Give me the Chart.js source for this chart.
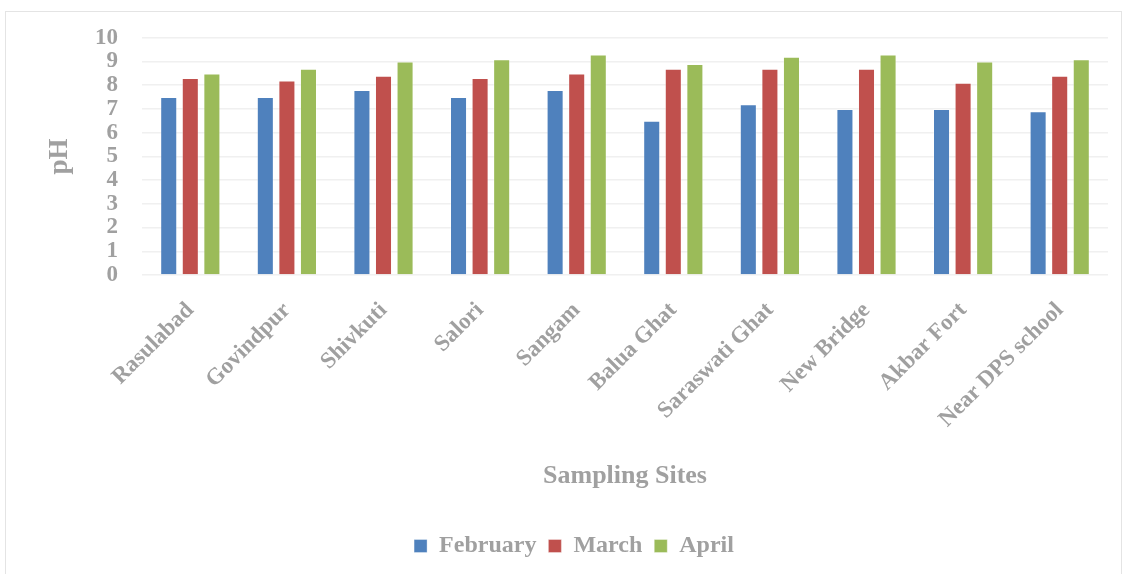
<!DOCTYPE html>
<html>
<head>
<meta charset="utf-8">
<script src="https://cdn.jsdelivr.net/npm/chart.js@4.4.1/dist/chart.umd.min.js"></script>
<style>
html,body{margin:0;padding:0;background:#fff;}
#wrap{width:1128px;height:574px;position:relative;}
</style>
</head>
<body>
<div id="wrap"><canvas id="c" width="1128" height="574"></canvas></div>
<script>
const categories = ["Rasulabad","Govindpur","Shivkuti","Salori","Sangam","Balua Ghat","Saraswati Ghat","New Bridge","Akbar Fort","Near DPS school"];
const february = [7.5,7.5,7.8,7.5,7.8,6.5,7.2,7.0,7.0,6.9];
const march = [8.3,8.2,8.4,8.3,8.5,8.7,8.7,8.7,8.1,8.4];
const april = [8.5,8.7,9.0,9.1,9.3,8.9,9.2,9.3,9.0,9.1];
const yTicks = [0,1,2,3,4,5,6,7,8,9,10];

const grey = '#a0a0a0';
const serif = '"Liberation Serif", "Times New Roman", serif';

const borderPlugin = {
  id: 'frame',
  beforeDraw(chart){
    const ctx = chart.ctx;
    ctx.save();
    ctx.fillStyle = '#fff';
    ctx.fillRect(0,0,chart.width,chart.height);
    ctx.strokeStyle = '#e4e4e4';
    ctx.lineWidth = 1;
    ctx.strokeRect(5.5, 11.5, 1116, 570);
    ctx.restore();
  }
};

new Chart(document.getElementById('c'), {
  type: 'bar',
  data: {
    labels: categories,
    datasets: [
      {label:'February', data: february, backgroundColor:'#4F81BD', borderColor:'rgba(255,255,255,0.35)', borderWidth:1},
      {label:'March', data: march, backgroundColor:'#C0504D', borderColor:'rgba(255,255,255,0.35)', borderWidth:1},
      {label:'April', data: april, backgroundColor:'#9BBB59', borderColor:'rgba(255,255,255,0.35)', borderWidth:1}
    ]
  },
  options: {
    responsive: false,
    animation: false,
    devicePixelRatio: 1,
    categoryPercentage: 0.67,
    barPercentage: 0.79,
    layout: {padding: {left: 40, right: 20, top: 37, bottom: 6}},
    plugins: {
      legend: {
        position: 'bottom',
        labels: {
          boxWidth: 13, boxHeight: 13, padding: 12,
          color: grey,
          font: {family: serif, size: 24, weight: 'bold'}
        }
      },
      tooltip: {enabled: false}
    },
    scales: {
      x: {
        grid: {display: false},
        border: {display: false},
        ticks: {
          color: grey, maxRotation: 45, minRotation: 45, padding: 14, autoSkip: false,
          font: {family: serif, size: 23, weight: 'bold'}
        },
        title: {
          display: true, text: 'Sampling Sites', color: grey,
          font: {family: serif, size: 26, weight: 'bold'},
          padding: {top: 0, bottom: 30}
        },
        afterFit(scale){ scale.height = 247; }
      },
      y: {
        min: 0, max: 10,
        afterBuildTicks(scale){ scale.ticks = yTicks.map(v => ({value: v})); },
        grid: {color: '#f0f0f0', lineWidth: 1.5, drawTicks: false},
        border: {display: false},
        ticks: {
          color: grey, padding: 24, autoSkip: false,
          font: {family: serif, size: 23, weight: 'bold'}
        },
        title: {
          display: true, text: 'pH', color: grey,
          font: {family: serif, size: 27, weight: 'bold'},
          padding: {top: 4, bottom: 0}
        },
        afterFit(scale){ scale.width = 102; }
      }
    }
  },
  plugins: [borderPlugin]
});
</script>
</body>
</html>
